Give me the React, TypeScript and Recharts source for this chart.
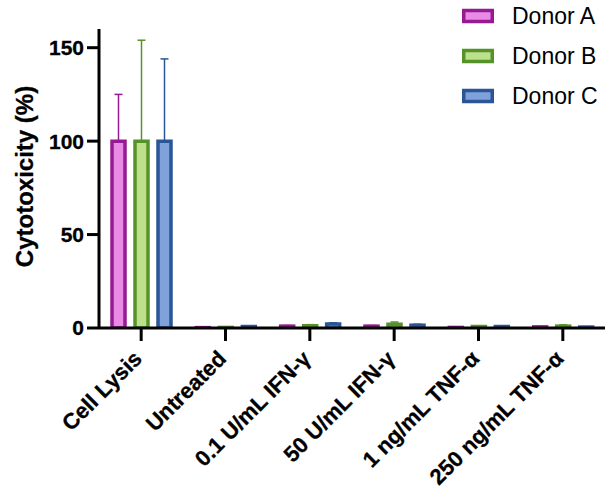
import { BarChart, Bar, XAxis, YAxis, ErrorBar, Legend, Label } from 'recharts'

const categories = ['Cell Lysis', 'Untreated', '0.1 U/mL IFN-γ', '50 U/mL IFN-γ', '1 ng/mL TNF-α', '250 ng/mL TNF-α']
const donorA = [100, 0.2, 1.0, 1.0, 0.3, 0.6]
const donorAErr = [25, 0.1, 0.3, 0.3, 0.1, 0.2]
const donorB = [100, 0.3, 1.2, 2.0, 0.8, 1.0]
const donorBErr = [54, 0.1, 0.6, 1.2, 0.4, 0.7]
const donorC = [100, 0.8, 2.2, 1.5, 0.8, 0.5]
const donorCErr = [44, 0.2, 0.6, 0.5, 0.3, 0.2]
const yTicks = [0, 50, 100, 150]

const FONT = "'Liberation Sans', Arial, Helvetica, sans-serif"

const series = [
  { key: 'a', name: 'Donor A', fill: '#E98BE6', stroke: '#961A92' },
  { key: 'b', name: 'Donor B', fill: '#BCE08C', stroke: '#55922A' },
  { key: 'c', name: 'Donor C', fill: '#7FA2DA', stroke: '#2C5597' },
]

// one row per treatment, errors are upper only
const chartData = categories.map((name, i) => ({
  name,
  a: donorA[i],
  aErr: [0, donorAErr[i]],
  b: donorB[i],
  bErr: [0, donorBErr[i]],
  c: donorC[i],
  cErr: [0, donorCErr[i]],
}))

const AngledTick = ({ x, y, payload }: any) => {
  const ax = x + 2
  const ay = y + 15
  return (
    <text
      x={ax}
      y={ay}
      transform={`rotate(-45 ${ax} ${ay})`}
      textAnchor="end"
      fontFamily={FONT}
      fontWeight="bold"
      fontSize={22}
      fill="#000"
      stroke="#000"
      strokeWidth={0.3}
    >
      {payload.value}
    </text>
  )
}

const DonorLegend = () => (
  <svg width={150} height={120}>
    {series.map((s, i) => {
      const cy = 16 + i * 40
      return (
        <g key={s.key}>
          <rect x={8.75} y={cy - 5.5} width={28.5} height={11} fill={s.fill} stroke={s.stroke} strokeWidth={3.5} />
          <text x={57} y={cy} dominantBaseline="central" fontFamily={FONT} fontSize={23} fill="#000">
            {s.name}
          </text>
        </g>
      )
    })}
  </svg>
)

export default function App() {
  return (
    <div style={{ position: 'absolute', left: 0, top: 0, width: 605, height: 493, background: '#fff' }}>
      <BarChart
        width={605}
        height={493}
        data={chartData}
        margin={{ top: 29, right: 0, left: 0, bottom: 0 }}
        barSize={13}
        barGap={10}
      >
        <XAxis
          dataKey="name"
          height={165}
          interval={0}
          axisLine={{ stroke: '#000', strokeWidth: 3 }}
          tickLine={{ stroke: '#000', strokeWidth: 3 }}
          tickSize={13}
          tickMargin={4}
          tick={<AngledTick />}
        />
        <YAxis
          width={99}
          domain={[0, 160]}
          ticks={yTicks}
          allowDataOverflow
          axisLine={{ stroke: '#000', strokeWidth: 3 }}
          tickLine={{ stroke: '#000', strokeWidth: 3 }}
          tickSize={12}
          tickMargin={3}
          tick={{ fill: '#000', stroke: '#000', strokeWidth: 0.3, fontFamily: FONT, fontWeight: 'bold', fontSize: 21 }}
        >
          <Label
            value="Cytotoxicity (%)"
            angle={-90}
            position="center"
            dx={-25}
            dy={-2}
            style={{ fill: '#000', stroke: '#000', strokeWidth: 0.3, fontFamily: FONT, fontWeight: 'bold', fontSize: 24, textAnchor: 'middle' }}
          />
        </YAxis>
        <Legend
          layout="vertical"
          align="center"
          verticalAlign="middle"
          wrapperStyle={{ left: 455, top: 0, width: 150, height: 120 }}
          content={<DonorLegend />}
        />
        {series.map((s) => (
          <Bar
            key={s.key}
            dataKey={s.key}
            name={s.name}
            fill={s.fill}
            stroke={s.stroke}
            strokeWidth={3.5}
            isAnimationActive={false}
          >
            <ErrorBar dataKey={`${s.key}Err`} direction="y" width={4} stroke={s.stroke} strokeWidth={1.5} />
          </Bar>
        ))}
      </BarChart>
    </div>
  )
}
